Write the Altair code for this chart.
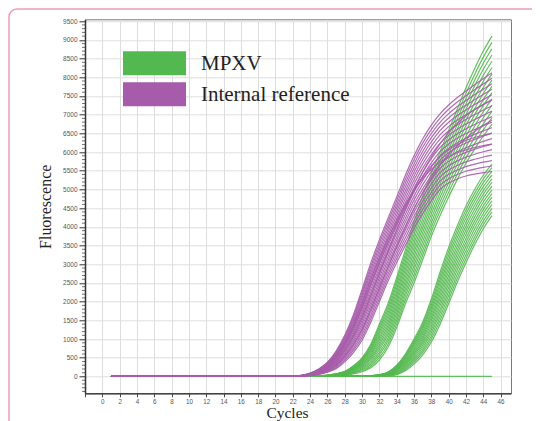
import altair as alt
import pandas as pd

# ---------------- data ----------------
cycles = list(range(1, 46))
flat_c1_c21 = [0] * 21          # all curves sit on the baseline for cycles 1..21

# Internal reference curves, values for cycles 22..45
ic_curves = [
    [0, 5, 20, 55, 115, 210, 390, 640, 970, 1450, 2000, 2550, 3050, 3500, 3960, 4350, 4700, 5000, 5170, 5280, 5360, 5410, 5450, 5480],
    [0, 6, 24, 63, 130, 236, 430, 696, 1046, 1538, 2092, 2644, 3147, 3605, 4068, 4461, 4812, 5112, 5286, 5401, 5486, 5543, 5590, 5627],
    [1, 8, 28, 71, 144, 262, 469, 752, 1121, 1626, 2183, 2737, 3244, 3709, 4176, 4572, 4924, 5224, 5402, 5522, 5612, 5676, 5729, 5773],
    [1, 10, 32, 79, 159, 288, 509, 808, 1197, 1714, 2275, 2830, 3342, 3814, 4284, 4683, 5037, 5337, 5518, 5643, 5738, 5809, 5869, 5920],
    [1, 11, 36, 87, 174, 314, 548, 864, 1272, 1801, 2367, 2923, 3439, 3918, 4391, 4794, 5149, 5449, 5634, 5764, 5864, 5941, 6008, 6067],
    [2, 12, 40, 95, 189, 341, 588, 921, 1348, 1889, 2459, 3017, 3536, 4023, 4499, 4906, 5261, 5561, 5751, 5886, 5991, 6074, 6148, 6214],
    [2, 13, 43, 103, 203, 367, 627, 977, 1423, 1977, 2550, 3110, 3633, 4127, 4607, 5017, 5373, 5673, 5867, 6007, 6117, 6207, 6287, 6360],
    [2, 15, 47, 111, 218, 393, 667, 1033, 1499, 2065, 2642, 3204, 3731, 4232, 4715, 5128, 5486, 5786, 5983, 6128, 6243, 6340, 6427, 6507],
    [2, 16, 51, 119, 233, 419, 706, 1089, 1574, 2152, 2733, 3297, 3828, 4336, 4822, 5239, 5598, 5898, 6099, 6249, 6369, 6472, 6566, 6653],
    [3, 18, 55, 128, 248, 445, 745, 1145, 1650, 2240, 2825, 3390, 3925, 4440, 4930, 5350, 5710, 6010, 6215, 6370, 6495, 6605, 6705, 6800],
    [3, 19, 59, 136, 262, 471, 784, 1201, 1726, 2328, 2917, 3483, 4022, 4544, 5038, 5461, 5822, 6122, 6331, 6491, 6621, 6738, 6844, 6947],
    [3, 21, 63, 144, 277, 497, 824, 1257, 1802, 2416, 3009, 3577, 4120, 4649, 5146, 5572, 5935, 6235, 6447, 6612, 6747, 6871, 6984, 7094],
    [3, 22, 67, 152, 292, 523, 863, 1313, 1877, 2503, 3100, 3670, 4217, 4753, 5253, 5683, 6047, 6347, 6563, 6733, 6873, 7003, 7123, 7240],
    [4, 23, 71, 160, 307, 550, 903, 1370, 1953, 2591, 3192, 3764, 4314, 4858, 5361, 5795, 6159, 6459, 6680, 6855, 7000, 7136, 7263, 7387],
    [4, 24, 74, 168, 321, 576, 942, 1426, 2028, 2679, 3283, 3857, 4411, 4962, 5469, 5906, 6271, 6571, 6796, 6976, 7126, 7269, 7402, 7533],
    [4, 26, 78, 176, 336, 602, 982, 1482, 2104, 2767, 3375, 3950, 4509, 5067, 5577, 6017, 6384, 6684, 6912, 7097, 7252, 7402, 7542, 7680],
    [4, 27, 82, 184, 351, 628, 1021, 1538, 2179, 2854, 3467, 4043, 4606, 5171, 5684, 6128, 6496, 6796, 7028, 7218, 7378, 7534, 7681, 7827],
    [5, 29, 86, 192, 366, 654, 1061, 1594, 2255, 2942, 3559, 4137, 4703, 5276, 5792, 6239, 6608, 6908, 7144, 7339, 7504, 7667, 7821, 7974],
    [5, 30, 90, 200, 380, 680, 1100, 1650, 2330, 3030, 3650, 4230, 4800, 5380, 5900, 6350, 6720, 7020, 7260, 7460, 7630, 7800, 7960, 8120],
    [4, 23, 72, 163, 312, 560, 915, 1385, 1965, 2590, 3160, 3690, 4170, 4600, 4980, 5290, 5540, 5730, 5870, 5980, 6060, 6120, 6170, 6210],
    [2, 16, 50, 117, 230, 414, 700, 1085, 1575, 2160, 2760, 3350, 3920, 4470, 4990, 5460, 5870, 6220, 6520, 6770, 6970, 7140, 7280, 7400],
    [1, 10, 34, 85, 170, 310, 540, 855, 1262, 1790, 2360, 2930, 3470, 3990, 4480, 4920, 5310, 5650, 5930, 6170, 6370, 6550, 6710, 6860],
    [3, 21, 65, 150, 288, 515, 850, 1295, 1850, 2465, 3040, 3580, 4080, 4550, 4970, 5330, 5630, 5870, 6060, 6200, 6310, 6390, 6450, 6500],
]

# MPXV, earlier group, values for cycles 22..45
mpxv_early = [
    [0, 0, 0, 0, 5, 15, 35, 70, 125, 230, 440, 780, 1310, 1940, 2500, 3120, 3750, 4300, 4800, 5270, 5700, 6080, 6430, 6750],
    [0, 0, 0, 1, 7, 20, 42, 86, 152, 275, 509, 864, 1406, 2043, 2617, 3242, 3870, 4422, 4927, 5405, 5845, 6234, 6592, 6918],
    [0, 0, 1, 2, 9, 24, 50, 101, 179, 320, 577, 947, 1501, 2146, 2734, 3363, 3989, 4543, 5054, 5539, 5989, 6387, 6754, 7086],
    [0, 0, 1, 3, 12, 28, 58, 117, 206, 365, 646, 1031, 1597, 2249, 2852, 3485, 4108, 4665, 5182, 5673, 6133, 6541, 6917, 7254],
    [0, 0, 1, 4, 14, 32, 65, 133, 232, 410, 714, 1114, 1693, 2351, 2969, 3606, 4227, 4786, 5309, 5807, 6277, 6694, 7079, 7421],
    [0, 0, 2, 5, 16, 37, 73, 149, 259, 455, 783, 1198, 1789, 2454, 3086, 3728, 4347, 4908, 5436, 5942, 6422, 6848, 7241, 7589],
    [0, 0, 2, 6, 18, 41, 80, 164, 286, 500, 851, 1281, 1884, 2557, 3203, 3849, 4466, 5029, 5563, 6076, 6566, 7001, 7403, 7757],
    [0, 0, 3, 8, 20, 45, 88, 180, 313, 545, 920, 1365, 1980, 2660, 3320, 3970, 4585, 5150, 5690, 6210, 6710, 7155, 7565, 7925],
    [0, 0, 3, 9, 22, 49, 95, 196, 339, 590, 989, 1449, 2076, 2763, 3437, 4091, 4704, 5271, 5817, 6344, 6854, 7309, 7727, 8093],
    [0, 0, 4, 10, 24, 54, 103, 212, 366, 635, 1058, 1533, 2172, 2866, 3554, 4213, 4824, 5393, 5944, 6479, 6999, 7463, 7889, 8261],
    [0, 0, 4, 11, 26, 58, 110, 227, 393, 680, 1126, 1616, 2267, 2969, 3671, 4334, 4943, 5514, 6071, 6613, 7143, 7616, 8051, 8429],
    [0, 0, 4, 12, 29, 62, 118, 243, 420, 725, 1195, 1700, 2363, 3072, 3789, 4456, 5062, 5636, 6199, 6747, 7287, 7770, 8214, 8597],
    [0, 0, 4, 13, 31, 66, 125, 259, 446, 770, 1263, 1783, 2459, 3174, 3906, 4577, 5181, 5757, 6326, 6881, 7431, 7923, 8376, 8764],
    [0, 0, 5, 14, 33, 71, 133, 275, 473, 815, 1332, 1867, 2555, 3277, 4023, 4699, 5301, 5879, 6453, 7016, 7576, 8077, 8538, 8932],
    [0, 0, 5, 15, 35, 75, 140, 290, 500, 860, 1400, 1950, 2650, 3380, 4140, 4820, 5420, 6000, 6580, 7150, 7720, 8230, 8700, 9100],
]

# MPXV, later group, values for cycles 22..45
mpxv_late = [
    [0, 0, 0, 0, 0, 0, 0, 0, 5, 20, 50, 120, 300, 600, 1000, 1450, 2070, 2780, 3450, 4030, 4560, 5000, 5380, 5680],
    [0, 0, 0, 0, 0, 0, 0, 0, 5, 19, 47, 113, 282, 568, 952, 1388, 1988, 2681, 3343, 3922, 4452, 4895, 5278, 5582],
    [0, 0, 0, 0, 0, 0, 0, 0, 4, 17, 44, 105, 264, 536, 904, 1326, 1906, 2581, 3236, 3814, 4343, 4789, 5176, 5483],
    [0, 0, 0, 0, 0, 0, 0, 0, 4, 16, 41, 98, 247, 504, 857, 1264, 1824, 2482, 3129, 3707, 4235, 4683, 5074, 5385],
    [0, 0, 0, 0, 0, 0, 0, 0, 4, 14, 37, 90, 229, 471, 809, 1201, 1741, 2383, 3021, 3599, 4126, 4577, 4971, 5286],
    [0, 0, 0, 0, 0, 0, 0, 0, 4, 13, 34, 83, 211, 439, 761, 1139, 1659, 2284, 2914, 3491, 4018, 4472, 4869, 5188],
    [0, 0, 0, 0, 0, 0, 0, 0, 3, 11, 31, 75, 193, 407, 713, 1077, 1577, 2184, 2807, 3383, 3909, 4366, 4767, 5089],
    [0, 0, 0, 0, 0, 0, 0, 0, 3, 10, 28, 68, 175, 375, 665, 1015, 1495, 2085, 2700, 3275, 3800, 4260, 4665, 4990],
    [0, 0, 0, 0, 0, 0, 0, 0, 2, 9, 24, 60, 157, 343, 617, 953, 1413, 1986, 2593, 3167, 3691, 4154, 4563, 4891],
    [0, 0, 0, 0, 0, 0, 0, 0, 2, 8, 21, 53, 139, 311, 569, 891, 1331, 1887, 2486, 3059, 3583, 4049, 4461, 4793],
    [0, 0, 0, 0, 0, 0, 0, 0, 1, 6, 18, 45, 121, 279, 521, 829, 1249, 1787, 2379, 2951, 3474, 3943, 4359, 4694],
    [0, 0, 0, 0, 0, 0, 0, 0, 1, 5, 15, 38, 104, 247, 474, 767, 1167, 1688, 2272, 2844, 3366, 3837, 4257, 4596],
    [0, 0, 0, 0, 0, 0, 0, 0, 1, 3, 11, 30, 86, 214, 426, 704, 1084, 1589, 2164, 2736, 3257, 3731, 4154, 4497],
    [0, 0, 0, 0, 0, 0, 0, 0, 1, 2, 8, 23, 68, 182, 378, 642, 1002, 1490, 2057, 2628, 3149, 3626, 4052, 4399],
    [0, 0, 0, 0, 0, 0, 0, 0, 0, 0, 5, 15, 50, 150, 330, 580, 920, 1390, 1950, 2520, 3040, 3520, 3950, 4300],
]

# MPXV negative (flat) curve, cycles 22..45
mpxv_negative = [0] * 24

legend_labels = ["MPXV", "Internal reference"]
legend_colors = ["#53B84F", "#A65CAA"]
x_tick_values = [-2, 0, 2, 4, 6, 8, 10, 12, 14, 16, 18, 20, 22, 24, 26, 28, 30, 32, 34, 36, 38, 40, 42, 44, 46]
y_tick_values = [0, 500, 1000, 1500, 2000, 2500, 3000, 3500, 4000, 4500, 5000, 5500, 6000, 6500, 7000,
                 7500, 8000, 8500, 9000, 9500]
y_minor_ticks = [v for v in range(-400, 9600, 100) if v % 500 != 0]

# ---------------- build tables ----------------
def to_rows(group, prefix, curves):
    rows = []
    for k, vals in enumerate(curves):
        full = flat_c1_c21 + vals
        for c, v in zip(cycles, full):
            rows.append({"cycle": c, "value": v, "curve": f"{prefix}{k}", "group": group})
    return rows

green_df = pd.DataFrame(
    to_rows("MPXV", "neg", [mpxv_negative])
    + to_rows("MPXV", "late", mpxv_late)
    + to_rows("MPXV", "early", mpxv_early)
)
purple_df = pd.DataFrame(to_rows("Internal reference", "ic", ic_curves))
legend_df = pd.DataFrame({"group": legend_labels})

xscale = alt.Scale(domain=[-2, 47.2], nice=False, zero=False)
yscale = alt.Scale(domain=[-450, 9550], nice=False, zero=False)
color_scale = alt.Scale(domain=legend_labels, range=legend_colors)

x_axis = alt.Axis(
    values=x_tick_values, labelExpr="datum.value < 0 ? '' : datum.label",
    grid=True, gridColor="#dddddd", gridWidth=1,
    domainColor="#444444", domainWidth=1.5, tickColor="#444444", tickSize=3.5,
    labelFont="Liberation Sans", labelFontSize=6.3, labelColor="#555555", labelPadding=1.5,
    labelOverlap=False, labelFlush=False,
    title="Cycles", titleFont="Liberation Serif", titleFontSize=15.5, titleFontWeight="normal",
    titleColor="#222222", titleX=202, titleY=24, titleBaseline="alphabetic",
)
y_axis = alt.Axis(
    values=y_tick_values, format="d",
    grid=True, gridColor="#dddddd", gridWidth=1,
    domainColor="#333333", domainWidth=1.5, tickColor="#333333", tickSize=6,
    labelFont="Liberation Sans", labelFontSize=6.5, labelColor="#555555", labelPadding=2,
    labelOverlap=False, labelFlush=False,
    title="Fluorescence", titleFont="Liberation Serif", titleFontSize=16, titleFontWeight="normal",
    titleColor="#222222", titleX=-39.5, titleY=187, titleBaseline="middle", titleAngle=270,
)

def lines(df):
    return alt.Chart(df).mark_line(strokeWidth=1.2, opacity=0.9, interpolate="monotone").encode(
        x=alt.X("cycle:Q", scale=xscale, axis=x_axis),
        y=alt.Y("value:Q", scale=yscale, axis=y_axis),
        color=alt.Color("group:N", scale=color_scale, legend=None),
        detail="curve:N",
    )

green = lines(green_df)
purple = lines(purple_df)

minor = alt.Chart(pd.DataFrame({"value": y_minor_ticks})).mark_tick(
    orient="horizontal", size=3, thickness=1, color="#333333"
).encode(
    x=alt.value(-1.5),
    y=alt.Y("value:Q", scale=yscale, axis=y_axis),
)

plot = alt.layer(green, purple, minor)

# legend drawn as marks (large filled boxes + serif labels)
legend_y = alt.Y("group:N", scale=alt.Scale(type="point", domain=legend_labels, range=[44, 75], padding=0),
                 axis=None)
legend_boxes = alt.Chart(legend_df).mark_point(
    shape="M-2.625,-1H2.625V1H-2.625Z", size=576, filled=True, opacity=1, strokeWidth=0
).encode(
    x=alt.value(69.5), y=legend_y,
    color=alt.Color("group:N", scale=color_scale, legend=None),
)
legend_text = alt.Chart(legend_df).mark_text(
    align="left", baseline="middle", font="Liberation Serif", fontSize=21, color="#222222", dy=1
).encode(
    x=alt.value(116), y=legend_y, text="group:N",
)
legend_layer = alt.layer(legend_boxes, legend_text)

frame = alt.Chart(pd.DataFrame({"k": [0]})).mark_rect(
    fillOpacity=0, stroke="#EE9ABB", strokeWidth=1.5, cornerRadius=8
).encode(
    x=alt.value(-76), x2=alt.value(480), y=alt.value(-10.3), y2=alt.value(440)
)

chart = alt.layer(frame, plot, legend_layer).resolve_scale(y="independent").properties(
    width=426, height=374,
    padding={"left": 77, "top": 11.3, "right": 21, "bottom": 34},
    autosize=alt.AutoSizeParams(type="none"),
    background="white",
).configure_view(stroke="#777777", strokeWidth=1)

chart.save("out.html", embed_options={"renderer": "svg", "actions": False})
